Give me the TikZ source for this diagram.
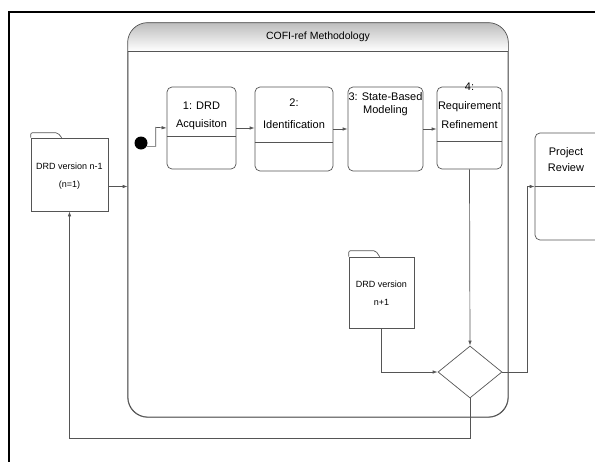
\documentclass[tikz,border=0pt]{standalone}
\usepackage{fontspec}
\setmainfont{Liberation Sans}
\usepackage{tikz}
\usetikzlibrary{arrows.meta,calc,shapes.geometric}
\definecolor{LineGrey}{HTML}{555555}
\definecolor{HeadGrey}{HTML}{BDBDBD}

\tikzset{
  line/.style={draw=LineGrey,line width=0.7pt},
  arr/.style={line,-{Latex[length=5pt,width=3.5pt]}},
  statebox/.style={line,rounded corners=5pt,fill=white,inner sep=0pt},
  folder/.style={line,fill=white,inner sep=0pt},
  lbl/.style={font=\fontsize{11}{18}\selectfont,align=center,inner sep=0pt},
  flbl/.style={font=\fontsize{9}{18}\selectfont,align=center,inner sep=0pt}
}

\begin{document}
\begin{tikzpicture}[x=1pt,y=-1pt]
  \useasboundingbox (0,0) rectangle (595,461);
  \clip (0,0) rectangle (595,461);
  % outer frame
  \draw[line width=1.3pt] (9,470) -- (9,12) -- (600,12);
  % methodology container
  \node[line,rounded corners=20pt,minimum width=380pt,minimum height=394pt,inner sep=0pt] (cofi) at (318,220) {};
  \begin{scope}
    \clip[rounded corners=20pt] (cofi.north west) rectangle (cofi.south east);
    \shade[top color=HeadGrey,bottom color=white] (cofi.north west) rectangle (cofi.east |- 0,51);
  \end{scope}
  \draw[line,rounded corners=20pt] (cofi.north west) rectangle (cofi.south east);
  \draw[line] (cofi.west |- 0,51) -- (cofi.east |- 0,51);
  \node[lbl,font=\fontsize{10.5}{12}\selectfont] (title) at (318,37) {COFI-ref Methodology};
  % initial state
  \node[circle,fill=black,minimum size=13pt,inner sep=0pt] (init) at (141,143) {};
  % states
  \node[statebox,minimum width=69pt,minimum height=82pt] (s1) at (201.5,128) {};
  \draw[line] (s1.west |- 0,136) -- (s1.east |- 0,136);
  \node[lbl] (s1t) at (201.5,116) {1: DRD\\Acquisiton};
  \node[statebox,minimum width=78pt,minimum height=84pt] (s2) at (294,129) {};
  \draw[line] (s2.west |- 0,142) -- (s2.east |- 0,142);
  \node[lbl,font=\fontsize{11}{22}\selectfont] (s2t) at (294,114) {2:\\Identification};
  \node[statebox,minimum width=75pt,minimum height=84pt] (s3) at (385.5,129) {};
  \node[lbl,font=\fontsize{11}{12.5}\selectfont] (s3t) at (385.5,104) {3: State-Based\\Modeling};
  \node[statebox,minimum width=65pt,minimum height=82pt] (s4) at (469.5,128) {};
  \draw[line] (s4.west |- 0,141) -- (s4.east |- 0,141);
  \node[lbl,font=\fontsize{11}{19}\selectfont] (s4t) at (469.5,106) {4:\\Requirement\\Refinement};
  % project review
  \node[statebox,minimum width=70pt,minimum height=107pt] (pr) at (570,186.5) {};
  \draw[line] (pr.west) -- (pr.east);
  \node[lbl,font=\fontsize{11}{16}\selectfont] (prt) at (566,160) {Project\\Review};
  % documents
  \node[folder,minimum width=77pt,minimum height=73pt] (fo) at (69.5,174.5) {};
  \draw[line,rounded corners=2pt] (fo.north west) -- ++(0,-5) -- ++(27,0) -- ++(4,5);
  \node[flbl] (fot) at (69.5,176) {DRD version n-1\\(n=1)};
  \node[folder,minimum width=65pt,minimum height=71pt] (fn) at (381.5,292.5) {};
  \draw[line,rounded corners=2pt] (fn.north west) -- ++(0,-6) -- ++(27,0) -- ++(4,6);
  \node[flbl] (fnt) at (381.5,293) {DRD version\\n+1};
  % decision
  \node[diamond,line,aspect=1.23,minimum width=64pt,minimum height=52pt,inner sep=0pt] (dec) at (470,372) {};
  % connectors
  \draw[arr] (init.-30) -| ++(9,-19) -- (s1.west);
  \draw[arr] (s1.east) -- (s1.east -| s2.west);
  \draw[arr] (s2.east) -- (s2.east -| s3.west);
  \draw[arr] (s3.east) -- (s3.east -| s4.west);
  \draw[arr] (s4.south) -- (dec.north);
  \draw[arr] (fn.south) |- (dec.west);
  \draw[arr] (dec.east) -- ++(25,0) |- (pr.west);
  \draw[arr] (dec.south) -- ++(0,40) -| (fo.south);
  \draw[arr] ([yshift=-12pt]fo.east) -- ([yshift=-12pt]fo.east -| cofi.west);
\end{tikzpicture}
\end{document}
